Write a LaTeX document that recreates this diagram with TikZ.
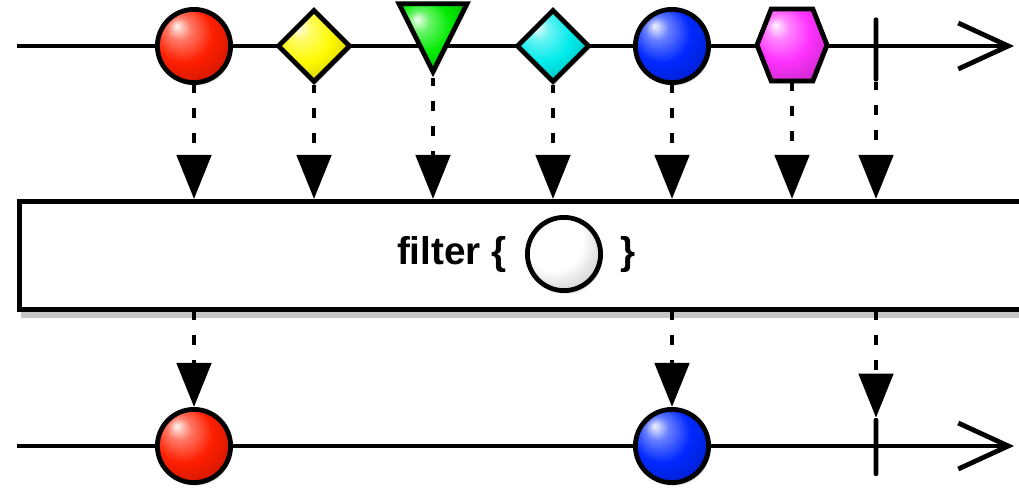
\documentclass[tikz,border=0pt]{standalone}
\usepackage{xcolor}
\usepackage{fontspec}
\setmainfont{Liberation Sans}
\usepackage{tikz}
\usetikzlibrary{arrows.meta,calc,positioning,shapes.geometric,shapes.symbols,shadows}
\pgfdeclareradialshading[marblecol]{marble}{\pgfqpoint{-12bp}{14bp}}{%
  color(0bp)=(marblecol!5!white);
  color(8bp)=(marblecol!60!white);
  color(20bp)=(marblecol);
  color(34bp)=(marblecol!80!black);
  color(52bp)=(marblecol!50!black)}
\colorlet{marblecol}{white}
\definecolor{rxred}{RGB}{255,30,0}
\definecolor{rxyellow}{RGB}{255,250,0}
\definecolor{rxgreen}{RGB}{0,235,0}
\definecolor{rxcyan}{RGB}{0,235,235}
\definecolor{rxblue}{RGB}{0,40,255}
\definecolor{rxmagenta}{RGB}{255,50,255}
\begin{document}
\begin{tikzpicture}[x=0.025cm,y=-0.025cm,
	timeline/.style={line width=0.12cm,-{Straight Barb[length=1.25cm,width=1.15cm]}},
	flow/.style={line width=0.12cm,dash pattern=on 0.25cm off 0.375cm,dash phase=0.05cm,-{Triangle[length=1.1cm,width=0.85cm]}},
	marble/.style={draw,line width=0.12cm,inner sep=0pt,shade,shading=marble,/utils/exec={\colorlet{marblecol}{#1}},drop shadow={opacity=0.2,shadow xshift=0.05cm,shadow yshift=-0.08cm}},
	ball/.style={marble=#1,circle,minimum size=1.83cm},
	gem/.style={marble=#1,diamond,minimum size=1.82cm},
	cone/.style={marble=#1,isosceles triangle,isosceles triangle stretches,shape border rotate=-90,minimum width=1.7cm,minimum height=1.7cm,anchor=apex},
	hexa/.style={marble=#1,signal,signal to=east and west,signal pointer angle=137,minimum width=1.75cm,minimum height=1.8cm},
	tick/.style={fill,rounded corners=0.05cm,inner sep=0pt,minimum width=0.12cm,minimum height=#1},
	opbox/.style={draw,fill=white,line width=0.12cm,anchor=north west,minimum width=26cm,minimum height=2.7cm,drop shadow={opacity=0.45,shadow xshift=0.03cm,shadow yshift=-0.22cm}},
	optext/.style={inner sep=0pt,font=\bfseries\fontsize{27.5}{30}\selectfont}]
	\useasboundingbox (0,0) rectangle (1019,489);
	% source
	\coordinate (in start) at (17,46);
	\coordinate (in end) at (1014,46);
	\draw[timeline] (in start) -- (in end);
	\node[ball=rxred] (red) at (194,46) {};
	\node[gem=rxyellow] (yellow) at (314,46) {};
	\node[cone=rxgreen] (green) at (433,78) {};
	\node[gem=rxcyan] (cyan) at (553,46) {};
	\node[ball=rxblue] (blue) at (672,46) {};
	\node[hexa=rxmagenta] (magenta) at (792,45) {};
	\node[tick=1.6cm] (done) at (876,49.5) {};
	% operator
	\node[opbox] (box) at (17,199) {};
	\node[ball=white] (filt) at (564,254) {};
	\node[optext,left=0.45cm of filt] (filtname) {filter \{};
	\node[optext,right=0.42cm of filt] (filtend) {\}};
	\foreach \n/\a in {red/south,yellow/south,green/apex,cyan/south,blue/south,magenta/south,done/south}
	  \draw[flow] (\n.\a) -- (\n.\a |- box.north);
	% result
	\coordinate (out start) at (17,446);
	\coordinate (out end) at (1014,446);
	\draw[timeline] (out start) -- (out end);
	\node[ball=rxred] (redout) at (194,446) {};
	\node[ball=rxblue] (blueout) at (672,446) {};
	\node[tick=1.45cm] (doneout) at (876,447) {};
	\foreach \n in {redout,blueout,doneout}
	  \draw[flow] (\n.north |- box.south) -- (\n.north);
\end{tikzpicture}
\end{document}
